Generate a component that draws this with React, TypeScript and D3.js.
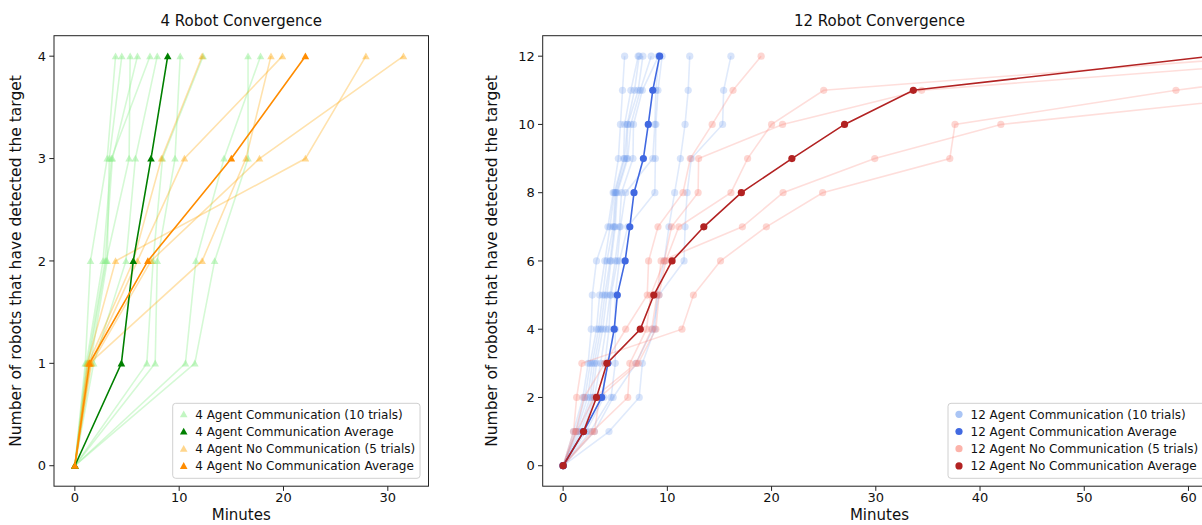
import * as d3 from 'd3'

// minutes at which 0..n robots had detected the target
const robots4 = [0, 1, 2, 3, 4]
const robots12 = [0, 1, 2, 3, 4, 5, 6, 7, 8, 9, 10, 11, 12]

const comm4Trials = [
  [0, 1.0, 1.5, 3.1, 3.9],
  [0, 1.1, 2.7, 3.5, 7.2],
  [0, 1.2, 2.9, 3.6, 6.0],
  [0, 1.3, 3.0, 5.2, 5.3],
  [0, 1.5, 3.1, 3.3, 4.5],
  [0, 1.8, 4.9, 5.8, 7.9],
  [0, 6.9, 7.5, 8.4, 12.3],
  [0, 7.7, 7.9, 9.6, 10.1],
  [0, 10.6, 11.6, 14.3, 17.8],
  [0, 11.5, 13.4, 16.6, 16.6],
]
const comm4Avg = [0, 4.46, 5.6, 7.3, 8.9]

const noComm4Trials = [
  [0, 1.3, 5.6, 8.3, 12.2],
  [0, 1.5, 6.0, 10.5, 19.9],
  [0, 1.2, 3.9, 22.1, 27.9],
  [0, 1.6, 7.3, 17.7, 31.5],
  [0, 1.4, 12.2, 16.4, 18.8],
]
const noComm4Avg = [0, 1.4, 7.0, 15.0, 22.1]

const comm12Trials = [
  [0, 1.0, 1.9, 2.4, 2.7, 2.8, 3.2, 4.3, 4.8, 5.3, 5.5, 5.7, 5.9],
  [0, 1.2, 2.1, 2.6, 3.2, 3.5, 4.0, 4.5, 4.9, 5.8, 5.9, 6.5, 7.2],
  [0, 1.3, 2.35, 2.8, 3.4, 3.8, 4.2, 4.8, 5.0, 5.9, 6.15, 6.85, 7.3],
  [0, 1.5, 2.6, 3.0, 3.6, 4.0, 4.5, 4.9, 5.1, 6.1, 6.2, 7.2, 7.65],
  [0, 1.7, 2.8, 3.2, 3.8, 4.2, 4.6, 5.0, 5.2, 6.2, 6.5, 7.4, 8.45],
  [0, 1.9, 3.0, 3.6, 4.1, 4.5, 5.0, 5.4, 5.6, 6.7, 6.75, 7.6, 9.15],
  [0, 2.2, 3.9, 4.0, 4.4, 4.6, 5.2, 5.5, 6.0, 8.6, 8.8, 8.9, 9.2],
  [0, 2.6, 4.6, 5.0, 5.0, 5.0, 5.4, 6.2, 8.8, 8.85, 8.9, 9.1, 9.5],
  [0, 4.4, 7.3, 7.6, 8.8, 9.0, 9.7, 10.15, 10.7, 11.25, 11.7, 12.0, 12.15],
  [0, 3.0, 4.8, 7.0, 8.6, 9.2, 11.6, 11.7, 11.9, 12.3, 15.3, 15.4, 16.1],
]
const comm12Avg = [0, 1.96, 3.7, 4.3, 4.9, 5.2, 5.95, 6.4, 6.8, 7.7, 8.17, 8.6, 9.26]

const noComm12Trials = [
  [0, 1.0, 1.3, 1.8, 11.4, 12.5, 15.1, 19.5, 24.9, 37.1, 37.6, 58.8, 84],
  [0, 1.3, 3.0, 7.0, 8.5, 9.0, 9.4, 17.2, 21.1, 29.9, 42.0, 73.0, 90],
  [0, 2.8, 6.2, 6.4, 8.0, 8.4, 9.7, 10.4, 12.95, 13.0, 21.05, 34.4, 77],
  [0, 3.0, 3.5, 7.2, 8.9, 9.2, 9.85, 11.1, 16.1, 17.7, 20.0, 25.0, 67.4],
  [0, 1.2, 2.0, 4.0, 6.0, 8.07, 8.2, 9.1, 11.5, 12.2, 14.3, 16.3, 19.0],
]
const noComm12Avg = [0, 1.96, 3.2, 4.2, 7.4, 8.7, 10.45, 13.5, 17.1, 21.95, 27.0, 33.6, 62.2]

const xTicks4 = [0, 10, 20, 30]
const yTicks4 = [0, 1, 2, 3, 4]
const xTicks12 = [0, 10, 20, 30, 40, 50, 60]
const yTicks12 = [0, 2, 4, 6, 8, 10, 12]

const legend4 = [
  '4 Agent Communication (10 trials)',
  '4 Agent Communication Average',
  '4 Agent No Communication (5 trials)',
  '4 Agent No Communication Average',
]
const legend12 = [
  '12 Agent Communication (10 trials)',
  '12 Agent Communication Average',
  '12 Agent No Communication (5 trials)',
  '12 Agent No Communication Average',
]

const FONT = 'DejaVu Sans, Verdana, sans-serif'

type Box = { left: number; right: number; top: number; bottom: number }
type Style = { trialColor: string; lineAlpha: number; markAlpha: number; legendAlpha: number; avgColor: string }

function Marker({ kind, cx, cy, fill, opacity }: { kind: string; cx: number; cy: number; fill: string; opacity: number }) {
  if (kind === 'tri') {
    const s = 3.8
    return <path d={`M${cx},${cy - s}L${cx - s},${cy + s * 0.8}L${cx + s},${cy + s * 0.8}Z`} fill={fill} fillOpacity={opacity} />
  }
  return <circle cx={cx} cy={cy} r={3.6} fill={fill} fillOpacity={opacity} />
}

function Panel(props: {
  id: string
  box: Box
  xDomain: [number, number]
  yDomain: [number, number]
  xTicks: number[]
  yTicks: number[]
  title: string
  levels: number[]
  groups: { trials: number[][]; avg: number[]; style: Style }[]
  legend: string[]
  legendBox: { x: number; y: number; w: number }
  marker: string
  ylabelX: number
}) {
  const { id, box, levels, groups, marker } = props
  const x = d3.scaleLinear().domain(props.xDomain).range([box.left, box.right])
  const y = d3.scaleLinear().domain(props.yDomain).range([box.bottom, box.top])
  const line = d3.line<number>().x(d => x(d)).y((_, i) => y(levels[i]))
  const cxMid = (box.left + box.right) / 2
  const cyMid = (box.top + box.bottom) / 2

  const legendItems = groups.flatMap((g, gi) => [
    { label: props.legend[gi * 2], color: g.style.trialColor, alpha: g.style.legendAlpha },
    { label: props.legend[gi * 2 + 1], color: g.style.avgColor, alpha: 1 },
  ])
  const lb = props.legendBox

  return (
    <g>
      <defs>
        <clipPath id={id}>
          <rect x={box.left} y={box.top} width={box.right - box.left} height={box.bottom - box.top} />
        </clipPath>
      </defs>
      <g clipPath={`url(#${id})`}>
        {groups.map((g, gi) =>
          g.trials.map((t, ti) => (
            <g key={`t${gi}-${ti}`}>
              <path d={line(t) ?? ''} fill="none" stroke={g.style.trialColor} strokeOpacity={g.style.lineAlpha} strokeWidth={1.6} />
              {t.map((v, i) => (
                <Marker key={i} kind={marker} cx={x(v)} cy={y(levels[i])} fill={g.style.trialColor} opacity={g.style.markAlpha} />
              ))}
            </g>
          ))
        )}
        {groups.map((g, gi) => (
          <g key={`a${gi}`}>
            <path d={line(g.avg) ?? ''} fill="none" stroke={g.style.avgColor} strokeWidth={1.6} />
            {g.avg.map((v, i) => (
              <Marker key={i} kind={marker} cx={x(v)} cy={y(levels[i])} fill={g.style.avgColor} opacity={1} />
            ))}
          </g>
        ))}
      </g>
      <rect x={box.left} y={box.top} width={box.right - box.left} height={box.bottom - box.top} fill="none" stroke="#222" strokeWidth={1} />
      {props.xTicks.map(t => (
        <g key={`x${t}`}>
          <line x1={x(t)} x2={x(t)} y1={box.bottom} y2={box.bottom + 4.7} stroke="#222" strokeWidth={1} />
          <text x={x(t)} y={box.bottom + 15.5} textAnchor="middle" fontSize={13} fontFamily={FONT} fill="#111">{t}</text>
        </g>
      ))}
      {props.yTicks.map(t => (
        <g key={`y${t}`}>
          <line x1={box.left - 4.7} x2={box.left} y1={y(t)} y2={y(t)} stroke="#222" strokeWidth={1} />
          <text x={box.left - 8} y={y(t) + 4.7} textAnchor="end" fontSize={13} fontFamily={FONT} fill="#111">{t}</text>
        </g>
      ))}
      <text x={cxMid} y={26} textAnchor="middle" fontSize={15} fontFamily={FONT} fill="#111">{props.title}</text>
      <text x={cxMid} y={519.5} textAnchor="middle" fontSize={15} fontFamily={FONT} fill="#111">Minutes</text>
      <text transform={`translate(${props.ylabelX},${cyMid}) rotate(-90)`} textAnchor="middle" fontSize={15.5} fontFamily={FONT} fill="#111">
        Number of robots that have detected the target
      </text>
      <g>
        <rect x={lb.x} y={lb.y} width={lb.w} height={75} rx={3} fill="#fff" fillOpacity={0.8} stroke="#d0d0d0" strokeWidth={1} />
        {legendItems.map((it, i) => (
          <g key={`l${i}`}>
            <Marker kind={marker} cx={lb.x + 11} cy={lb.y + 11 + i * 17.2} fill={it.color} opacity={it.alpha} />
            <text x={lb.x + 22.5} y={lb.y + 11 + i * 17.2 + 4.3} fontSize={12} fontFamily={FONT} fill="#111">{it.label}</text>
          </g>
        ))}
      </g>
    </g>
  )
}

export default function App() {
  const green: Style = { trialColor: '#90ee90', lineAlpha: 0.38, markAlpha: 0.5, legendAlpha: 0.55, avgColor: '#008000' }
  const orange: Style = { trialColor: '#ffa500', lineAlpha: 0.32, markAlpha: 0.42, legendAlpha: 0.45, avgColor: '#ff8c00' }
  const blue: Style = { trialColor: '#6495ed', lineAlpha: 0.2, markAlpha: 0.25, legendAlpha: 0.55, avgColor: '#4169e1' }
  const red: Style = { trialColor: '#fa8072', lineAlpha: 0.26, markAlpha: 0.32, legendAlpha: 0.6, avgColor: '#b22222' }

  return (
    <svg width={1202} height={525} style={{ position: 'absolute', left: 0, top: 0, background: '#fff' }}>
      <Panel
        id="clip4"
        box={{ left: 54, right: 428.5, top: 35.7, bottom: 486.2 }}
        xDomain={[-2, 33.9]}
        yDomain={[-0.2, 4.2]}
        xTicks={xTicks4}
        yTicks={yTicks4}
        title="4 Robot Convergence"
        levels={robots4}
        groups={[
          { trials: comm4Trials, avg: comm4Avg, style: green },
          { trials: noComm4Trials, avg: noComm4Avg, style: orange },
        ]}
        legend={legend4}
        legendBox={{ x: 172.7, y: 403.3, w: 247.3 }}
        marker="tri"
        ylabelX={20.5}
      />
      <Panel
        id="clip12"
        box={{ left: 542.7, right: 1216.2, top: 35.7, bottom: 486.2 }}
        xDomain={[-1.96, 62.66]}
        yDomain={[-0.6, 12.6]}
        xTicks={xTicks12}
        yTicks={yTicks12}
        title="12 Robot Convergence"
        levels={robots12}
        groups={[
          { trials: comm12Trials, avg: comm12Avg, style: blue },
          { trials: noComm12Trials, avg: noComm12Avg, style: red },
        ]}
        legend={legend12}
        legendBox={{ x: 948, y: 403.3, w: 260 }}
        marker="circle"
        ylabelX={496.5}
      />
    </svg>
  )
}
